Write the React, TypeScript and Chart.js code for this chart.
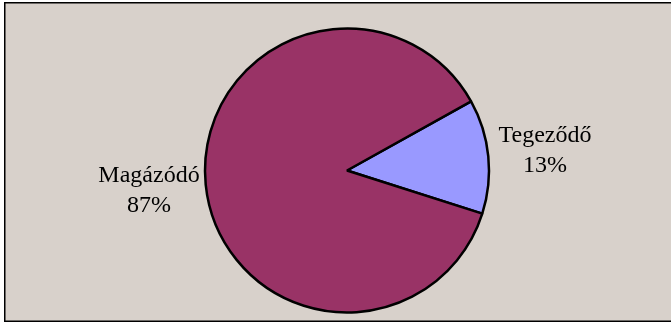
import React, { useEffect, useRef } from "react";
import { Chart, registerables } from "chart.js";

Chart.register(...registerables);

const categories = ["Tegeződő", "Magázódó"];
const values = [13, 87];
const sliceColors = ["#9999FF", "#993366"];

const BG = "rgb(216,209,203)";

const framePlugin = {
  id: "frame",
  beforeDraw(chart: any) {
    const ctx = chart.ctx;
    ctx.save();
    ctx.fillStyle = "#ffffff";
    ctx.fillRect(0, 0, chart.width, chart.height);
    ctx.fillStyle = BG;
    ctx.fillRect(4, 2, 700, 320);
    ctx.strokeStyle = "#000000";
    ctx.lineWidth = 1.5;
    ctx.strokeRect(4.75, 2.75, 700, 318.5);
    ctx.restore();
  },
};

const labelPlugin = {
  id: "sliceLabels",
  afterDatasetsDraw(chart: any) {
    const ctx = chart.ctx;
    const meta = chart.getDatasetMeta(0);
    const data = chart.data.datasets[0].data as number[];
    const total = data.reduce((a, b) => a + b, 0);
    ctx.save();
    ctx.fillStyle = "#000000";
    ctx.font = '24px "Liberation Serif", "Times New Roman", serif';
    ctx.textAlign = "center";
    ctx.textBaseline = "middle";
    meta.data.forEach((arc: any, i: number) => {
      const { x, y, startAngle, endAngle, outerRadius } = arc.getProps(
        ["x", "y", "startAngle", "endAngle", "outerRadius"],
        true
      );
      const mid = (startAngle + endAngle) / 2;
      const d = outerRadius + 57;
      const cx = x + Math.cos(mid) * d;
      const cy = y + Math.sin(mid) * d;
      const pct = Math.round((data[i] / total) * 100) + "%";
      ctx.fillText(String(chart.data.labels[i]), cx, cy - 15);
      ctx.fillText(pct, cx, cy + 15);
    });
    ctx.restore();
  },
};

export default function App() {
  const ref = useRef<HTMLCanvasElement | null>(null);
  useEffect(() => {
    document.body.style.margin = "0";
    const canvas = ref.current;
    if (!canvas) return;
    const chart = new Chart(canvas, {
      type: "pie",
      data: {
        labels: categories,
        datasets: [
          {
            data: values,
            backgroundColor: sliceColors,
            borderColor: "#000000",
            borderWidth: 2.5,
          },
        ],
      },
      options: {
        responsive: false,
        animation: false,
        devicePixelRatio: 1,
        rotation: 60.9,
        radius: 142,
        layout: { padding: { left: 23, right: 0, top: 20, bottom: 2 } },
        plugins: {
          legend: { display: false },
          tooltip: { enabled: false },
        },
      },
      plugins: [framePlugin, labelPlugin],
    });
    return () => chart.destroy();
  }, []);
  return (
    <div style={{ width: 671, height: 323, position: "relative" }}>
      <canvas ref={ref} width={671} height={323} style={{ display: "block", width: 671, height: 323 }} />
    </div>
  );
}
